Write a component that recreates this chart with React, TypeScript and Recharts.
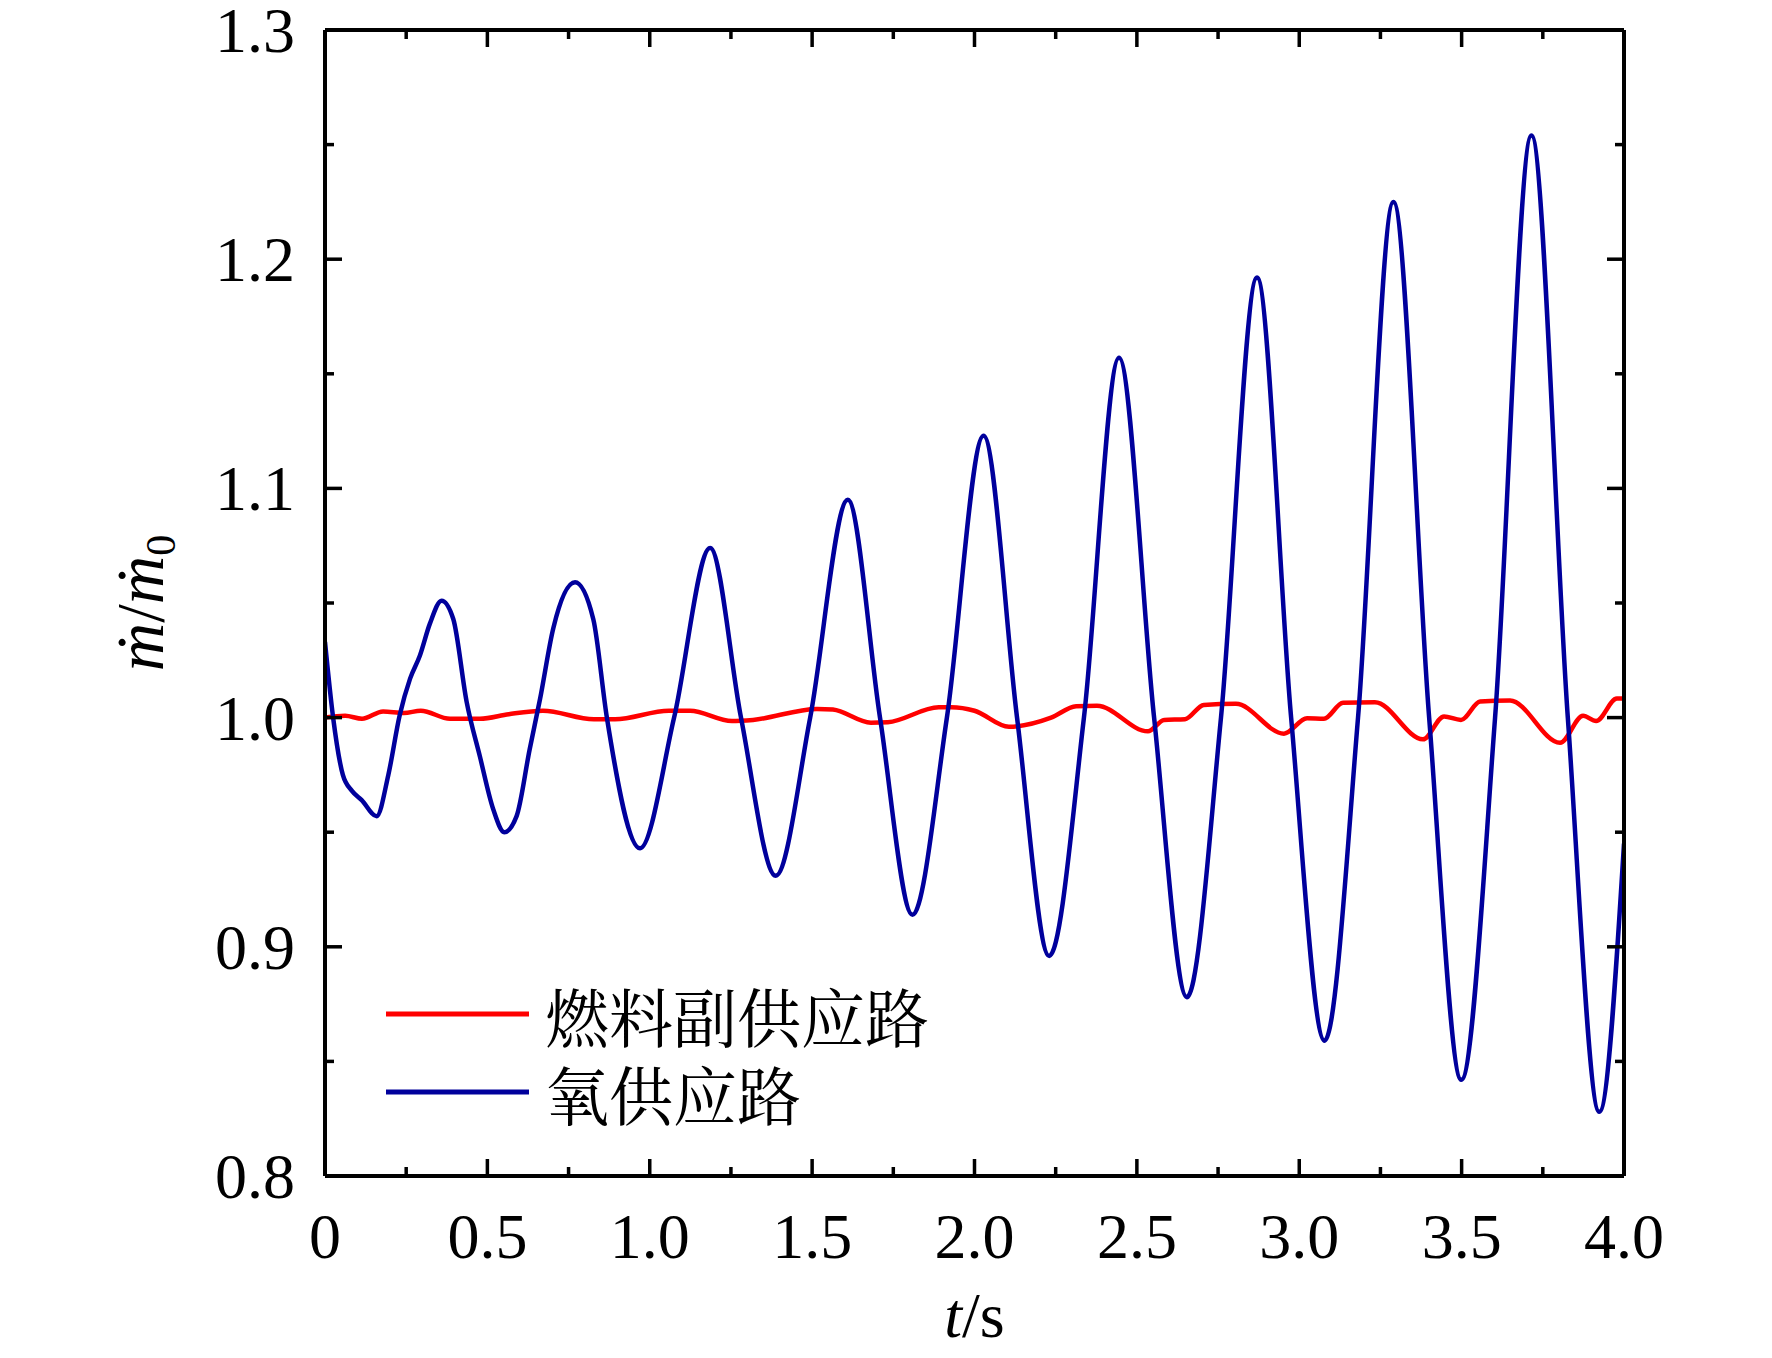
import React from "react";
import { LineChart, Line, XAxis, YAxis, Legend, Label } from "recharts";

// ---------- data ----------
const FUEL_NAME = "燃料副供应路";
const OX_NAME = "氧供应路";

const fuelT = [0, 0.062, 0.114, 0.179, 0.243, 0.295, 0.385, 0.477, 0.566, 0.671, 0.828, 0.893, 1.059, 1.124, 1.253, 1.318, 1.515, 1.564, 1.681, 1.733, 1.89, 1.928, 2.0, 2.106, 2.236, 2.313, 2.377, 2.534, 2.584, 2.648, 2.706, 2.805, 2.953, 3.024, 3.076, 3.135, 3.233, 3.381, 3.446, 3.498, 3.557, 3.649, 3.803, 3.874, 3.914, 3.978, 4.0];
const fuelV = [1.0, 1.0008, 0.9995, 1.0027, 1.002, 1.003, 0.9995, 0.9995, 1.0015, 1.003, 0.9993, 0.9993, 1.003, 1.003, 0.9985, 0.999, 1.0038, 1.0035, 0.9978, 0.998, 1.0045, 1.0045, 1.003, 0.996, 1.0, 1.005, 1.0052, 0.994, 0.999, 0.9993, 1.0055, 1.006, 0.993, 0.9997, 0.9995, 1.0065, 1.0067, 0.9905, 1.0005, 0.999, 1.007, 1.0075, 0.989, 1.0008, 0.9985, 1.0083, 1.0083];

const oxT = [0, 0.025, 0.055, 0.083, 0.113, 0.159, 0.195, 0.23, 0.262, 0.292, 0.323, 0.359, 0.395, 0.436, 0.477, 0.518, 0.552, 0.59, 0.63, 0.662, 0.703, 0.77, 0.826, 0.868, 0.97, 1.075, 1.186, 1.281, 1.388, 1.494, 1.61, 1.709, 1.809, 1.915, 2.028, 2.131, 2.23, 2.337, 2.445, 2.553, 2.654, 2.759, 2.87, 2.975, 3.078, 3.181, 3.29, 3.4, 3.499, 3.603, 3.715, 3.827, 3.924, 4.0];
const oxV = [1.033, 1.0, 0.975, 0.968, 0.964, 0.957, 0.975, 1.001, 1.017, 1.027, 1.041, 1.051, 1.043, 1.007, 0.983, 0.96, 0.95, 0.957, 0.986, 1.008, 1.039, 1.059, 1.043, 1.0, 0.943, 1.0, 1.074, 1.0, 0.931, 1.0, 1.095, 1.0, 0.914, 1.0, 1.123, 1.0, 0.896, 1.0, 1.157, 1.0, 0.878, 1.0, 1.192, 1.0, 0.859, 1.0, 1.225, 1.0, 0.842, 1.0, 1.254, 1.0, 0.828, 0.945];

const xTicks = [0, 0.25, 0.5, 0.75, 1.0, 1.25, 1.5, 1.75, 2.0, 2.25, 2.5, 2.75, 3.0, 3.25, 3.5, 3.75, 4.0];
const xMajor = [0, 0.5, 1.0, 1.5, 2.0, 2.5, 3.0, 3.5, 4.0];
const xLabels = ["0", "0.5", "1.0", "1.5", "2.0", "2.5", "3.0", "3.5", "4.0"];
const yTicks = [0.8, 0.85, 0.9, 0.95, 1.0, 1.05, 1.1, 1.15, 1.2, 1.25, 1.3];
const yMajor = [0.8, 0.9, 1.0, 1.1, 1.2, 1.3];
const yLabels = ["0.8", "0.9", "1.0", "1.1", "1.2", "1.3"];

const fuelData = fuelT.map((t, i) => ({ t, v: fuelV[i] }));
const oxData = oxT.map((t, i) => ({ t, v: oxV[i] }));

const RED = "#ff0000";
const BLUE = "#00009c";
const FONT = "'Liberation Serif', 'Times New Roman', serif";
const CJK = "'Noto Serif CJK SC', 'Noto Sans CJK SC', serif";

const MAJOR = 17;
const MINOR = 9;
const isMajor = (arr: number[], v: number) => arr.some((m) => Math.abs(m - v) < 1e-6);

const BottomTick = (p: any) => {
  const v = p.payload.value;
  const maj = isMajor(xMajor, v);
  const idx = xMajor.findIndex((m) => Math.abs(m - v) < 1e-6);
  return (
    <g>
      <line x1={p.x} x2={p.x} y1={p.y} y2={p.y - (maj ? MAJOR : MINOR)} stroke="#000" strokeWidth={3.5} />
      {maj && (
        <text x={p.x} y={p.y + 82} textAnchor="middle" fontFamily={FONT} fontSize={64} fill="#000">
          {xLabels[idx]}
        </text>
      )}
    </g>
  );
};
const TopTick = (p: any) => {
  const maj = isMajor(xMajor, p.payload.value);
  return <line x1={p.x} x2={p.x} y1={p.y} y2={p.y + (maj ? MAJOR : MINOR)} stroke="#000" strokeWidth={3.5} />;
};
const LeftTick = (p: any) => {
  const v = p.payload.value;
  const maj = isMajor(yMajor, v);
  const idx = yMajor.findIndex((m) => Math.abs(m - v) < 1e-6);
  return (
    <g>
      <line x1={p.x} x2={p.x + (maj ? MAJOR : MINOR)} y1={p.y} y2={p.y} stroke="#000" strokeWidth={3.5} />
      {maj && (
        <text x={p.x - 30} y={p.y + 22} textAnchor="end" fontFamily={FONT} fontSize={64} fill="#000">
          {yLabels[idx]}
        </text>
      )}
    </g>
  );
};
const RightTick = (p: any) => {
  const maj = isMajor(yMajor, p.payload.value);
  return <line x1={p.x} x2={p.x - (maj ? MAJOR : MINOR)} y1={p.y} y2={p.y} stroke="#000" strokeWidth={3.5} />;
};

const LegendContent = () => {
  const items = [
    { name: FUEL_NAME, color: RED },
    { name: OX_NAME, color: BLUE },
  ];
  return (
    <div style={{ display: "flex", flexDirection: "column" }}>
      {items.map((it) => (
        <div key={it.name} style={{ display: "flex", alignItems: "center", height: 78, overflow: "visible" }}>
          <svg width={143} height={10} style={{ display: "block" }}>
            <line x1={0} x2={143} y1={5} y2={5} stroke={it.color} strokeWidth={5} />
          </svg>
          <span style={{ marginLeft: 16, fontFamily: CJK, fontSize: 64, lineHeight: "70px", height: 70, display: "inline-block", color: "#000", whiteSpace: "nowrap" }}>
            {it.name}
          </span>
        </div>
      ))}
    </div>
  );
};

const YLabel = (props: any) => {
  const vb = props.viewBox || { x: 0, y: 0, width: 325, height: 1146 };
  const cx = vb.x + 163;
  const cy = vb.y + vb.height / 2;
  return (
    <text x={cx} y={cy} transform={`rotate(-90, ${cx}, ${cy})`} textAnchor="middle" fontFamily={FONT} fontSize={67} fill="#000">
      <tspan fontStyle="italic">ṁ</tspan>
      <tspan>/</tspan>
      <tspan fontStyle="italic">ṁ</tspan>
      <tspan fontSize={42} dy={12}>0</tspan>
    </text>
  );
};

const XLabel = (props: any) => {
  const vb = props.viewBox || { x: 325, y: 1176, width: 1299, height: 182 };
  const cx = vb.x + vb.width / 2;
  return (
    <text x={cx} y={vb.y + 161} textAnchor="middle" fontFamily={FONT} fontSize={64} fill="#000">
      <tspan fontStyle="italic">t</tspan>
      <tspan>/s</tspan>
    </text>
  );
};

export default function App() {
  return (
    <div style={{ position: "absolute", left: 0, top: 0, width: 1772, height: 1358, background: "#fff" }}>
      <LineChart width={1772} height={1358} margin={{ top: 29, right: 147, bottom: 0, left: 0 }}>
        <XAxis
          xAxisId="b"
          dataKey="t"
          type="number"
          domain={[0, 4]}
          ticks={xTicks}
          interval={0}
          allowDataOverflow
          orientation="bottom"
          height={182}
          tickSize={0}
          tickMargin={0}
          tickLine={false}
          axisLine={{ stroke: "#000", strokeWidth: 4 }}
          tick={<BottomTick />}
        >
          <Label content={<XLabel />} />
        </XAxis>
        <XAxis
          xAxisId="t"
          dataKey="t"
          type="number"
          domain={[0, 4]}
          ticks={xTicks}
          interval={0}
          allowDataOverflow
          orientation="top"
          height={1}
          tickSize={0}
          tickMargin={0}
          tickLine={false}
          axisLine={{ stroke: "#000", strokeWidth: 4 }}
          tick={<TopTick />}
        />
        <YAxis
          yAxisId="l"
          type="number"
          domain={[0.8, 1.3]}
          ticks={yTicks}
          interval={0}
          allowDataOverflow
          orientation="left"
          width={325}
          tickSize={0}
          tickMargin={0}
          tickLine={false}
          axisLine={{ stroke: "#000", strokeWidth: 4 }}
          tick={<LeftTick />}
        >
          <Label content={<YLabel />} />
        </YAxis>
        <YAxis
          yAxisId="r"
          type="number"
          domain={[0.8, 1.3]}
          ticks={yTicks}
          interval={0}
          allowDataOverflow
          orientation="right"
          width={1}
          tickSize={0}
          tickMargin={0}
          tickLine={false}
          axisLine={{ stroke: "#000", strokeWidth: 4 }}
          tick={<RightTick />}
        />
        <Legend
          layout="horizontal"
          verticalAlign="middle"
          align="center"
          content={<LegendContent />}
          wrapperStyle={{ position: "absolute", left: 386, top: 975, width: 700, height: 160 }}
        />
        <Line
          xAxisId="b"
          yAxisId="l"
          data={fuelData}
          dataKey="v"
          name={FUEL_NAME}
          type="monotone"
          stroke={RED}
          strokeWidth={4.5}
          dot={false}
          activeDot={false}
          isAnimationActive={false}
        />
        <Line
          xAxisId="b"
          yAxisId="l"
          data={oxData}
          dataKey="v"
          name={OX_NAME}
          type="monotone"
          stroke={BLUE}
          strokeWidth={4.5}
          dot={false}
          activeDot={false}
          isAnimationActive={false}
        />
      </LineChart>
    </div>
  );
}
